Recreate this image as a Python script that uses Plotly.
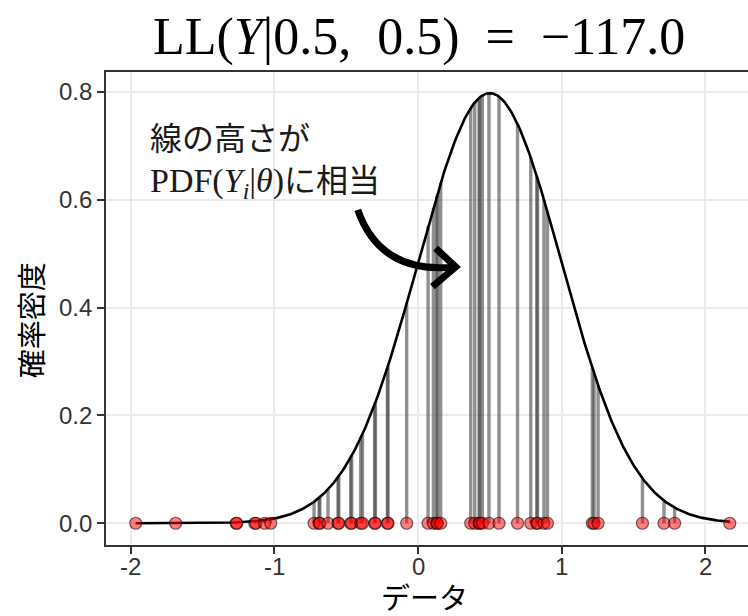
import numpy as np
import plotly.graph_objects as go

# ---- data ----
data_y = [-1.966, -1.688, -1.267, -1.262, -1.137, -1.128, -1.068, -1.026,
          -0.724, -0.689, -0.684, -0.627, -0.557, -0.552, -0.469, -0.462,
          -0.399, -0.387, -0.302, -0.297, -0.213, -0.209, -0.079, 0.070,
          0.107, 0.130, 0.135, 0.158, 0.367, 0.395, 0.425, 0.430, 0.448,
          0.494, 0.564, 0.693, 0.785, 0.827, 0.832, 0.877, 0.901, 1.214,
          1.226, 1.254, 1.563, 1.713, 1.787, 2.171]
mu = 0.5
sigma = 0.5
ll_value = -117.0
x_tickvals = [-2, -1, 0, 1, 2]
x_ticktext = ["-2", "-1", "0", "1", "2"]
y_tickvals = [0.0, 0.2, 0.4, 0.6, 0.8]
y_ticktext = ["0.0", "0.2", "0.4", "0.6", "0.8"]


def npdf(x):
    x = np.asarray(x, dtype=float)
    return np.exp(-(x - mu) ** 2 / (2 * sigma ** 2)) / (sigma * np.sqrt(2 * np.pi))


ys = np.array(data_y)
pdf_vals = npdf(ys)
xc = np.linspace(ys.min(), ys.max(), 500)
yc = npdf(xc)

fig = go.Figure()

# vertical segments (error bars from pdf down to 0)
fig.add_trace(go.Scatter(
    x=ys, y=pdf_vals, mode="markers",
    marker=dict(size=0.1, color="rgba(0,0,0,0)"),
    error_y=dict(type="data", symmetric=False, array=[0] * len(ys),
                 arrayminus=pdf_vals, width=0, thickness=3.4,
                 color="rgba(70,70,70,0.6)"),
    hoverinfo="skip", showlegend=False))

# density curve
fig.add_trace(go.Scatter(x=xc, y=yc, mode="lines",
                         line=dict(color="black", width=2.6),
                         hoverinfo="skip", showlegend=False))

# data points
fig.add_trace(go.Scatter(
    x=ys, y=[0] * len(ys), mode="markers",
    marker=dict(size=12, color="rgba(255,0,0,0.5)",
                line=dict(color="rgba(0,0,0,0.55)", width=1.2)),
    showlegend=False))

serif = "Liberation Serif"
jp = "Noto Sans CJK JP"
sans = "Liberation Sans"

# curved arrow (data coords)
fig.add_shape(type="path",
              path="M -0.420,0.5813 Q -0.260,0.4606 0.262,0.4756",
              xref="x", yref="y", line=dict(color="black", width=7))
fig.add_shape(type="path",
              path="M 0.123,0.5101 L 0.262,0.4756 L 0.100,0.4389",
              xref="x", yref="y", line=dict(color="black", width=7))

annotations = [
    dict(text="LL(<i>Y</i>|0.5,&nbsp;&nbsp;0.5)&nbsp;&nbsp;=&nbsp;&nbsp;−%.1f" % abs(ll_value),
         x=0.4878, y=1.0747, xref="paper", yref="paper", xanchor="center",
         yanchor="middle", showarrow=False,
         font=dict(family=serif, size=52, color="black")),
    dict(text='線の高さが<br><span style="font-family:Liberation Serif;font-size:34px">PDF(<i>Y</i><sub><i>i</i></sub>|<i>θ</i>)</span>に相当',
         x=-1.882, y=0.6767, xref="x", yref="y", align="left",
         xanchor="left", yanchor="middle", showarrow=False,
         font=dict(family=jp, size=32, color="#1a1a1a")),
    dict(text="データ", x=0.4956, y=-0.1080, xref="paper", yref="paper",
         xanchor="center", yanchor="middle", showarrow=False,
         font=dict(family=jp, size=29, color="black")),
    dict(text="確率密度", x=-0.1179, y=0.476, xref="paper", yref="paper",
         xanchor="center", yanchor="middle", showarrow=False, textangle=-90,
         font=dict(family=jp, size=29, color="black")),
]
# x tick labels placed just under the ticks
for v, t in zip(x_tickvals, x_ticktext):
    annotations.append(dict(text=t, x=v, xref="x", y=-0.0465, yref="paper",
                            xanchor="center", yanchor="middle", showarrow=False,
                            font=dict(family=sans, size=24, color="#333333")))

fig.update_layout(
    width=748, height=616,
    margin=dict(l=106, r=0, t=72, b=71, pad=0),
    paper_bgcolor="white", plot_bgcolor="white",
    annotations=annotations,
    xaxis=dict(range=[-2.173, 2.298], tickvals=x_tickvals, ticktext=x_ticktext,
               showticklabels=False,
               showgrid=True, gridcolor="#EBEBEB", gridwidth=2, zeroline=False,
               showline=True, mirror=True, linecolor="#333333", linewidth=1.6,
               ticks="outside", ticklen=7, tickwidth=2, tickcolor="#333333"),
    yaxis=dict(range=[-0.0403, 0.8371], tickvals=y_tickvals, ticktext=y_ticktext,
               showgrid=True, gridcolor="#EBEBEB", gridwidth=2, zeroline=False,
               showline=True, mirror=False, linecolor="#333333", linewidth=1.6,
               ticks="outside", ticklen=7, tickwidth=2, tickcolor="#333333",
               tickfont=dict(family=sans, size=24, color="#333333")),
)

fig.write_html("out.html")
